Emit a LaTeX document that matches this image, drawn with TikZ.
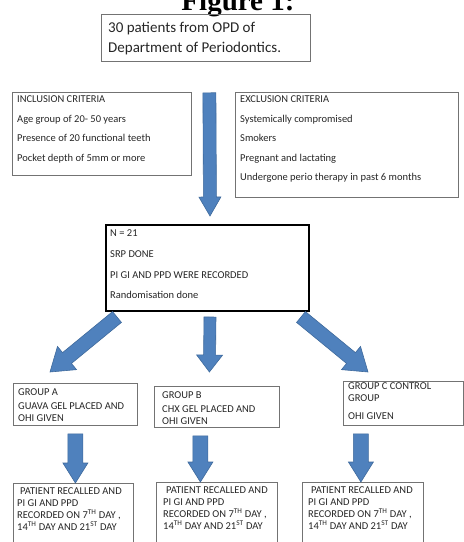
\documentclass[tikz,border=0pt]{standalone}
\usepackage{fontspec}
\setmainfont{Carlito}
\newfontfamily\figfont{Liberation Serif}
\usepackage{tikz}
\usetikzlibrary{calc,positioning}
\definecolor{arrowblue}{HTML}{4F81BD}
\definecolor{arrowedge}{HTML}{3F6A9C}
\tikzset{
  box/.style={draw=black!55, line width=0.8pt, anchor=north west, inner sep=0pt},
  txt/.style={anchor=north west, align=left, inner sep=0pt, text=black!85,
    font=\fontsize{10.5}{12.8}\selectfont},
  flowarrow/.style={fill=arrowblue, draw=arrowedge, line width=0.6pt},
}
\newcommand\blockarrow[5]{%
  \filldraw[flowarrow] let \p1=#1, \p2=#2,
    \n1={atan2(\y2-\y1,\x2-\x1)}, \n2={veclen(\x2-\x1,\y2-\y1)} in
    ($(\p1)+(\n1+90:#3)$) -- ++(\n1:\n2-#5) -- ++(\n1+90:#4-#3) -- (\p2)
    -- ($(\p2)+(\n1+180:#5)+(\n1-90:#4)$) -- ++(\n1+90:#4-#3)
    -- ++(\n1+180:\n2-#5) -- cycle;}

\begin{document}
\begin{tikzpicture}[x=1pt,y=-1pt]
  \useasboundingbox (0,0) rectangle (464,542);
  \node[anchor=base, font=\figfont\bfseries\fontsize{29}{30}\selectfont] (title) at (238,10) {Figure 1:};

  \node[box, minimum width=209pt, minimum height=47pt] (opd) at (101,14) {};
  \node[txt, font=\fontsize{15}{20}\selectfont] (opdtxt) at ([xshift=7pt,yshift=-8pt]opd.north west)
    {30 patients from OPD of\\Department of Periodontics.};

  \node[box, minimum width=179pt, minimum height=83pt] (incl) at (12,92) {};
  \node[txt] (incltxt) at ([xshift=5pt,yshift=-3.5pt]incl.north west)
    {INCLUSION CRITERIA\\[6.7pt]Age group of 20- 50 years\\[6.7pt]Presence of 20 functional teeth\\[6.7pt]Pocket depth of 5mm or more};

  \node[box, minimum width=223pt, minimum height=105pt] (excl) at (235,92) {};
  \node[txt] (excltxt) at ([xshift=5pt,yshift=-3.5pt]excl.north west)
    {EXCLUSION CRITERIA\\[6.7pt]Systemically compromised\\[6.7pt]Smokers\\[6.7pt]Pregnant and lactating\\[6.7pt]Undergone perio therapy in past 6 months};

  \node[box, draw=black, line width=2pt, minimum width=203pt, minimum height=86pt] (nbox) at (105,224) {};
  \node[txt] (nboxtxt) at ([xshift=5pt,yshift=-5.6pt]nbox.north west)
    {N = 21\\[7.9pt]SRP DONE\\[7.9pt]PI GI AND PPD WERE RECORDED\\[7.9pt]Randomisation done};

  \node[box, minimum width=124pt, minimum height=42pt] (grpA) at (13,383) {};
  \node[txt, font=\fontsize{10.5}{12}\selectfont] (grpAtxt) at ([xshift=5pt,yshift=-5.6pt]grpA.north west)
    {GROUP A\\[2pt]GUAVA GEL PLACED AND\\OHI GIVEN};
  \node[box, minimum width=125pt, minimum height=41pt] (grpB) at (154,386) {};
  \node[txt, font=\fontsize{10.5}{12}\selectfont] (grpBtxt) at ([xshift=8pt,yshift=-5.6pt]grpB.north west)
    {GROUP B\\[2pt]CHX GEL PLACED AND\\OHI GIVEN};
  \node[box, minimum width=120pt, minimum height=44pt] (grpC) at (343,381) {};
  \node[txt, font=\fontsize{10.5}{12}\selectfont] (grpCtxt) at ([xshift=5pt,yshift=-1pt]grpC.north west)
    {GROUP C CONTROL\\GROUP\\[6pt]OHI GIVEN};

  \node[box, minimum width=120pt, minimum height=80pt] (rec1) at (13,483) {};
  \node[txt, font=\fontsize{10.5}{12}\selectfont] (rec1txt) at ([xshift=4pt,yshift=-4pt]rec1.north west)
    {\hspace{3pt}PATIENT RECALLED AND\\PI GI AND PPD\\RECORDED ON 7\textsuperscript{TH} DAY ,\\14\textsuperscript{TH} DAY AND 21\textsuperscript{ST} DAY};
  \node[box, minimum width=121pt, minimum height=80pt] (rec2) at (156,482) {};
  \node[txt, font=\fontsize{10.5}{12}\selectfont] (rec2txt) at ([xshift=7pt,yshift=-4.6pt]rec2.north west)
    {\hspace{3pt}PATIENT RECALLED AND\\PI GI AND PPD\\RECORDED ON 7\textsuperscript{TH} DAY ,\\14\textsuperscript{TH} DAY AND 21\textsuperscript{ST} DAY};
  \node[box, minimum width=121pt, minimum height=80pt] (rec3) at (302,482) {};
  \node[txt, font=\fontsize{10.5}{12}\selectfont] (rec3txt) at ([xshift=6pt,yshift=-4.6pt]rec3.north west)
    {\hspace{3pt}PATIENT RECALLED AND\\PI GI AND PPD\\RECORDED ON 7\textsuperscript{TH} DAY ,\\14\textsuperscript{TH} DAY AND 21\textsuperscript{ST} DAY};

  \coordinate (a1) at ([yshift=-8pt]grpA.south);
  \coordinate (a2) at ([xshift=-16.5pt,yshift=-8pt]grpB.south);
  \coordinate (a3) at ([xshift=-42.5pt,yshift=-8pt]grpC.south);

  \blockarrow{([xshift=3.5pt,yshift=-31pt]opd.south)}{([xshift=2.5pt,yshift=8pt]nbox.north)}{6.5pt}{11pt}{19pt}
  \blockarrow{([xshift=12pt,yshift=-5pt]nbox.south west)}{([xshift=37pt,yshift=11pt]grpA.north west)}{7pt}{15pt}{22pt}
  \blockarrow{([xshift=2.5pt,yshift=-5pt]nbox.south)}{([xshift=-7.5pt,yshift=14pt]grpB.north)}{6pt}{13pt}{17pt}
  \blockarrow{([xshift=-9pt,yshift=-5pt]nbox.south east)}{([xshift=25pt,yshift=9pt]grpC.north west)}{7pt}{15pt}{22pt}
  \blockarrow{(a1)}{(a1 |- rec1.north)}{7.5pt}{12.5pt}{20pt}
  \blockarrow{(a2)}{(a2 |- rec2.north)}{7.5pt}{12.5pt}{20pt}
  \blockarrow{(a3)}{(a3 |- rec3.north)}{7.5pt}{12.5pt}{20pt}
\end{tikzpicture}
\end{document}
